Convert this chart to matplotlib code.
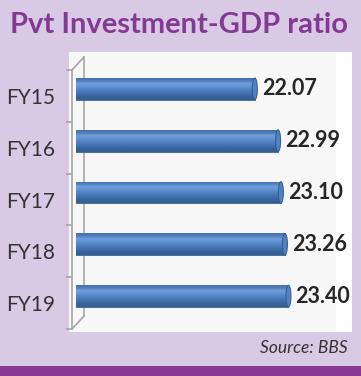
import matplotlib
matplotlib.use("Agg")
import matplotlib.pyplot as plt
import numpy as np
from matplotlib.patches import Rectangle, Ellipse
from matplotlib.lines import Line2D

plt.rcParams['font.family'] = ['Lato', 'DejaVu Sans']

# data
years = ["FY15", "FY16", "FY17", "FY18", "FY19"]
ratio = [22.07, 22.99, 23.10, 23.26, 23.40]
base = 15.0   # axis minimum of the original chart

W, H = 361, 376
fig = plt.figure(figsize=(W / 100, H / 100), dpi=100)
fig.patch.set_facecolor('#d8c9e5')

def px(x0, y0, x1, y1):
    # pixel box (top-left origin) -> figure fraction rect
    return [x0 / W, 1 - y1 / H, (x1 - x0) / W, (y1 - y0) / H]

# white panel + light grey back wall (behind the axes)
fig.add_artist(Rectangle((69 / W, 1 - 332 / H), (352 - 69) / W, (332 - 52) / H,
                         transform=fig.transFigure, facecolor='white', edgecolor='none',
                         zorder=-10))
fig.add_artist(Rectangle((69 / W, 1 - 332 / H), (336 - 69) / W, (332 - 52) / H,
                         transform=fig.transFigure, facecolor='#f7f7f7', edgecolor='none',
                         zorder=-9))
# bottom purple strip
fig.add_artist(Rectangle((0, 0), 1, 10 / H, transform=fig.transFigure,
                         facecolor='#873a93', edgecolor='none', zorder=-9))

ax = fig.add_axes(px(72, 70, 336, 329))
ax.set_facecolor('none')
y = np.arange(len(years))

# 3d-ish cylinders
off = -0.135
hgt = 0.42
bars = ax.barh(y + off, np.array(ratio) - base, left=base, height=hgt,
               color='#4f81bd', edgecolor='#3a6498', linewidth=0.6, zorder=3)
grad = np.array([0.0, 0.12, 0.3, 0.5, 0.7, 0.88, 1.0]).reshape(-1, 1)
cmap = matplotlib.colors.LinearSegmentedColormap.from_list(
    'cyl', ['#4673b0', '#6d9dda', '#6294d4', '#5486c6', '#4979b7', '#3f6ca8', '#345f94'])
for b in bars:
    x0, y0 = b.get_x(), b.get_y()
    im = ax.imshow(grad, cmap=cmap, aspect='auto', zorder=3.5,
                   extent=(x0, x0 + b.get_width(), y0 + b.get_height(), y0),
                   interpolation='bicubic')
    im.set_clip_path(b)
    ax.add_patch(Ellipse((x0 + b.get_width(), y0 + b.get_height() / 2), 0.2, b.get_height(),
                         facecolor='#5083c4', edgecolor='#30598d', linewidth=0.7, zorder=4))
ax.set_xlim(base - 0.16, 25.28)
ax.set_ylim(4.5, -0.5)

for yi, v in zip(y, ratio):
    ax.annotate(f"{v:.2f}", (v, yi + off), xytext=(5, 0), textcoords='offset points',
                ha='left', va='center', fontsize=15.5, fontweight='bold', color='#262626')

# axes styling
for s in ['top', 'right', 'bottom']:
    ax.spines[s].set_visible(False)
ax.spines['left'].set_color('#a6a6a6')
ax.spines['left'].set_linewidth(1.2)
ax.set_xticks([])
ax.set_yticks(y)
ax.set_yticklabels(years, fontsize=15, color='#333333')
ax.tick_params(axis='y', which='major', length=0, pad=12)
ax.set_yticks(np.arange(-0.5, 5, 1), minor=True)
ax.tick_params(axis='y', which='minor', length=4, color='#a6a6a6', width=1.2)

# depth lines of the 3d wall
dx, dy = 12 / 264, 13 / 259
kw = dict(transform=ax.transAxes, color='#a6a6a6', lw=1.2, clip_on=False)
ax.add_line(Line2D([dx, dx], [dy, 1 + dy], **kw))
ax.add_line(Line2D([0, dx], [1, 1 + dy], **kw))
ax.add_line(Line2D([0, dx], [0, dy], **kw))

fig.text(179 / W, 1 - 25 / H, "Pvt Investment-GDP ratio", ha='center', va='center',
         fontsize=21, fontweight='bold', color='#843a93')
fig.text(348 / W, 1 - 348 / H, "Source: BBS", ha='right', va='center',
         fontsize=12.5, style='italic', color='#333333')

fig.savefig("out.png", dpi=100, facecolor=fig.get_facecolor())
